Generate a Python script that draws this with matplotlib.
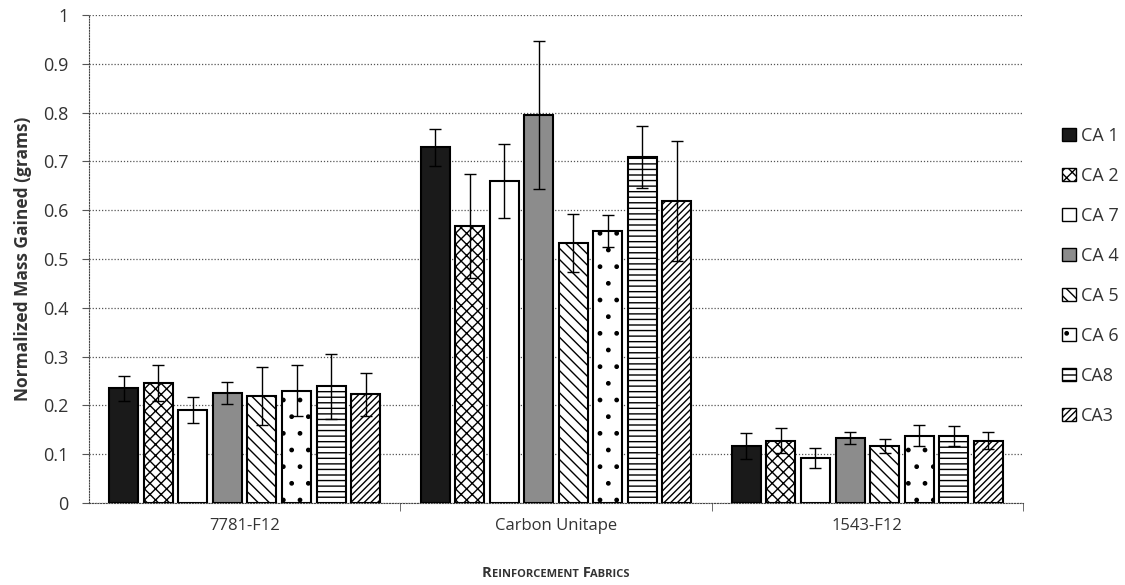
import matplotlib
matplotlib.use("Agg")
import matplotlib.pyplot as plt
import numpy as np
from matplotlib.offsetbox import TextArea, HPacker, AnchoredOffsetbox
from matplotlib.patches import Patch

plt.rcParams['font.family'] = ['Open Sans', 'DejaVu Sans']
plt.rcParams['hatch.linewidth'] = 1.0

categories = ["7781-F12", "Carbon Unitape", "1543-F12"]
series = ["CA 1", "CA 2", "CA 7", "CA 4", "CA 5", "CA 6", "CA8", "CA3"]
values = {
    "CA 1": [0.235, 0.729, 0.117],
    "CA 2": [0.246, 0.568, 0.128],
    "CA 7": [0.191, 0.660, 0.092],
    "CA 4": [0.225, 0.795, 0.133],
    "CA 5": [0.219, 0.533, 0.117],
    "CA 6": [0.230, 0.557, 0.138],
    "CA8":  [0.239, 0.709, 0.137],
    "CA3":  [0.223, 0.619, 0.128],
}
errors = {
    "CA 1": [0.025, 0.038, 0.026],
    "CA 2": [0.037, 0.107, 0.025],
    "CA 7": [0.027, 0.076, 0.021],
    "CA 4": [0.022, 0.152, 0.012],
    "CA 5": [0.059, 0.060, 0.014],
    "CA 6": [0.052, 0.033, 0.022],
    "CA8":  [0.066, 0.064, 0.021],
    "CA3":  [0.044, 0.123, 0.018],
}
styles = {
    "CA 1": dict(facecolor="#1a1a1a", hatch=None),
    "CA 2": dict(facecolor="white", hatch="xxx"),
    "CA 7": dict(facecolor="white", hatch=None),
    "CA 4": dict(facecolor="#8c8c8c", hatch=None),
    "CA 5": dict(facecolor="white", hatch="\\\\\\"),
    "CA 6": dict(facecolor="white", hatch="."),
    "CA8":  dict(facecolor="white", hatch="---"),
    "CA3":  dict(facecolor="white", hatch="/////"),
}

fig = plt.figure(figsize=(11.25, 5.85), dpi=100)
ax = fig.add_axes([89 / 1125, 1 - 503 / 585, (1023 - 89) / 1125, 488 / 585])

x = np.arange(len(categories))
pitch = 0.111
width = 0.093
for i, s in enumerate(series):
    st = styles[s]
    ax.bar(x + (i - 3.5) * pitch, values[s], width, yerr=errors[s],
           facecolor=st["facecolor"], hatch=st["hatch"], edgecolor="black",
           linewidth=1.5, label=s, zorder=3,
           error_kw=dict(ecolor="black", elinewidth=1.0, capsize=4, capthick=1.0, zorder=4))

ax.set_xlim(-0.5, 2.5)
ax.set_ylim(0, 1)
ax.set_yticks(np.arange(0, 1.01, 0.1))
ax.set_yticklabels(["0", "0.1", "0.2", "0.3", "0.4", "0.5", "0.6", "0.7", "0.8", "0.9", "1"])
ax.set_xticks(x)
ax.set_xticklabels(categories)
ax.set_xticks([0.5, 1.5, 2.5], minor=True)
ax.tick_params(axis='x', which='major', length=0, pad=11, labelsize=12, colors="#333333")
ax.tick_params(axis='x', which='minor', length=6, color="#555555")
ax.tick_params(axis='y', length=5, pad=10, labelsize=13, colors="#333333", color="#555555")
ax.grid(axis='y', linestyle=(0, (1, 1.5)), color="#555555", linewidth=0.9, zorder=0)
for side in ["top", "right"]:
    ax.spines[side].set_visible(False)
for side in ["left", "bottom"]:
    ax.spines[side].set_linestyle((0, (1, 1.5)))
    ax.spines[side].set_color("#444444")

ax.set_ylabel("Normalized Mass Gained (grams)", fontsize=12.5, fontweight="bold",
              color="#333333", labelpad=8)

# small-caps x-axis label
parts = [("R", 10.5), ("EINFORCEMENT", 8), (" F", 10.5), ("ABRICS", 8)]
areas = [TextArea(t, textprops=dict(fontsize=fs, fontweight="bold", color="#333333")) for t, fs in parts]
box = HPacker(children=areas, align="baseline", pad=0, sep=0)
anch = AnchoredOffsetbox(loc="center", child=box, frameon=False,
                         bbox_to_anchor=(556 / 1125, 1 - 573 / 585),
                         bbox_transform=fig.transFigure, borderpad=0, pad=0)
fig.add_artist(anch)

handles = [Patch(facecolor=styles[s]["facecolor"], hatch=styles[s]["hatch"],
                 edgecolor="black", linewidth=1.0) for s in series]
fig.legend(handles, series, loc="center left", bbox_to_anchor=(1046 / 1125, 1 - 276 / 585),
           frameon=False, fontsize=13, handlelength=0.75, handleheight=0.75,
           handletextpad=0.3, labelspacing=1.22, labelcolor="#333333")

fig.savefig("out.png", dpi=100)
